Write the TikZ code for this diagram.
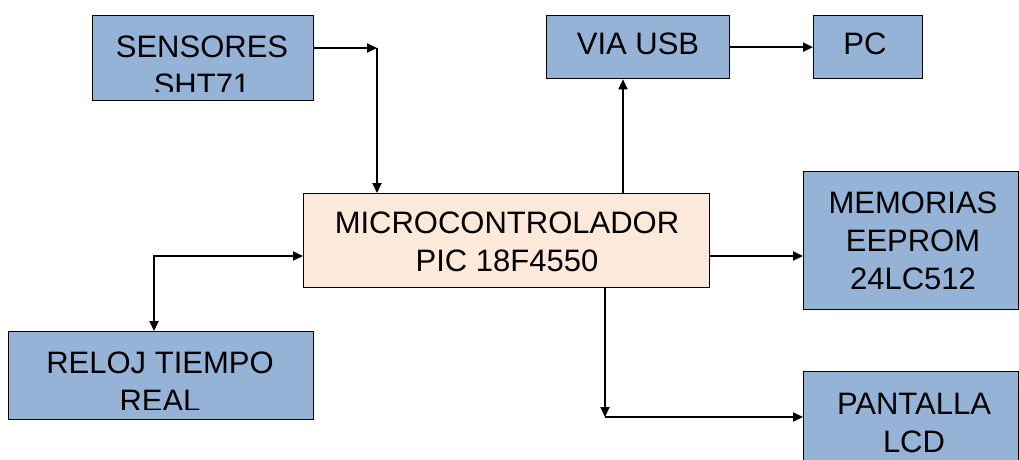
\documentclass[tikz,border=0pt]{standalone}
\usepackage{fontspec}
\setmainfont{Liberation Sans}
\usetikzlibrary{arrows.meta,calc}
\definecolor{boxblue}{HTML}{95B3D7}
\definecolor{boxpeach}{HTML}{FDE9D9}
\begin{document}
\begin{tikzpicture}[x=1pt,y=-1pt,
  blk/.style={draw=black,line width=1.3pt,inner sep=0pt,anchor=north west},
  bluebox/.style={blk,fill=boxblue},
  peachbox/.style={blk,fill=boxpeach},
  lbl/.style={anchor=north,inner sep=0pt,align=center,font=\fontsize{31}{38}\selectfont},
  arr/.style={line width=1.8pt,-{Triangle[length=10pt,width=9pt]}},
  darr/.style={line width=1.8pt,{Triangle[length=10pt,width=9pt]}-{Triangle[length=10pt,width=9pt]}},
  ]
\clip (0,0) rectangle (1019,460);
\fill[white] (0,0) rectangle (1019,460);
% boxes
\node[bluebox,minimum width=221pt,minimum height=85pt] (sens) at (92,15) {};
\node[bluebox,minimum width=183pt,minimum height=63pt] (usb) at (546,15) {};
\node[bluebox,minimum width=109pt,minimum height=63pt] (pc) at (813,15) {};
\node[peachbox,minimum width=406pt,minimum height=94pt] (mcu) at (303,193) {};
\node[bluebox,minimum width=215pt,minimum height=138pt] (mem) at (803,171) {};
\node[bluebox,minimum width=305pt,minimum height=88pt] (reloj) at (8,331) {};
\node[bluebox,minimum width=215pt,minimum height=110pt] (pant) at (803,371) {};
% labels
\begin{scope}
  \clip (92,15) rectangle (313,91);
  \node[lbl] (senstxt) at (202,36) {SENSORES\\SHT71};
\end{scope}
\node[lbl] (usbtxt) at (638,33) {VIA USB};
\node[lbl] (pctxt) at (865,33) {PC};
\node[lbl] (mcutxt) at (507,212) {MICROCONTROLADOR\\PIC 18F4550};
\node[lbl] (memtxt) at (913,192) {MEMORIAS\\EEPROM\\24LC512};
\begin{scope}
  \clip (8,331) rectangle (313,409);
  \node[lbl] (relojtxt) at (160,352) {RELOJ TIEMPO\\REAL};
\end{scope}
\node[lbl] (panttxt) at (914,393) {PANTALLA\\LCD};
% connector points
\coordinate (c1) at (377,48);
\coordinate (cu) at (623,120);
\coordinate (cm) at (750,256);
\coordinate (cl) at (154,256);
\coordinate (cd) at (605,417);
% connectors
\draw[arr] (sens.east |- c1) -- (c1);
\draw[arr] (c1) -- (c1 |- mcu.north);
\draw[arr] (mcu.north -| cu) -- (usb.south -| cu);
\draw[arr] (usb.east) -- (pc.west);
\draw[arr] (mcu.east |- cm) -- (mem.west |- cm);
\draw[darr] (mcu.west |- cl) -| (reloj.north -| cl);
\draw[arr] (mcu.south -| cd) -- (cd);
\draw[arr] (cd) -- (pant.west |- cd);
\end{tikzpicture}
\end{document}
